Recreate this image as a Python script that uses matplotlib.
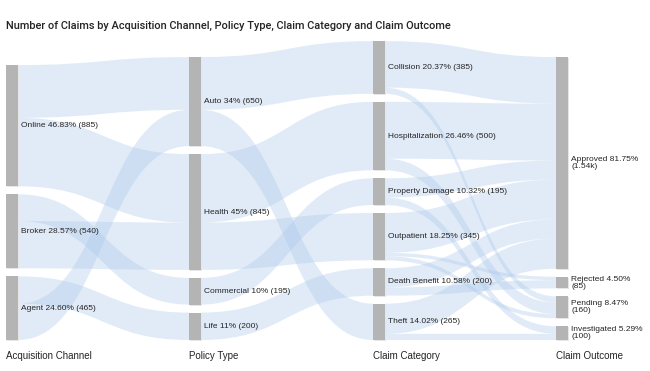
import matplotlib
matplotlib.use("Agg")
import matplotlib.pyplot as plt
from matplotlib.path import Path
from matplotlib.patches import PathPatch, Rectangle

# stages and node values
stage_names = ["Acquisition Channel", "Policy Type", "Claim Category", "Claim Outcome"]
channels = ["Online", "Broker", "Agent"]
policies = ["Auto", "Health", "Commercial", "Life"]
categories = ["Collision", "Hospitalization", "Property Damage", "Outpatient",
              "Death Benefit", "Theft"]
outcomes = ["Approved", "Rejected", "Pending", "Investigated"]

# flows between stages (source, target, claims); list order = stacking order
channel_policy = [("Online", "Auto", 385), ("Online", "Health", 500),
                  ("Broker", "Commercial", 195), ("Broker", "Health", 345),
                  ("Agent", "Life", 200), ("Agent", "Auto", 265)]
policy_category = [("Auto", "Collision", 385), ("Auto", "Theft", 265),
                   ("Health", "Hospitalization", 500), ("Health", "Outpatient", 345),
                   ("Commercial", "Property Damage", 195), ("Life", "Death Benefit", 200)]
category_outcome = [("Collision", "Approved", 340), ("Collision", "Pending", 45),
                    ("Hospitalization", "Approved", 415), ("Hospitalization", "Pending", 85),
                    ("Property Damage", "Approved", 140), ("Property Damage", "Investigated", 55),
                    ("Outpatient", "Approved", 290), ("Outpatient", "Rejected", 25),
                    ("Outpatient", "Pending", 30),
                    ("Death Benefit", "Approved", 140), ("Death Benefit", "Rejected", 60),
                    ("Theft", "Approved", 220), ("Theft", "Investigated", 45)]
pct_decimals = [2, 0, 2, 2]

stages = [channels, policies, categories, outcomes]
link_sets = [channel_policy, policy_category, category_outcome]

# layout (pixels)
W, H = 650, 371
col_x = [6, 189, 373, 556]
node_w = 12
scale = 0.137
gap = 8
base = 340
link_color = "#a9c8ec"
node_color = "#b4b4b4"
text_color = "#252423"

fig = plt.figure(figsize=(6.5, 3.71), dpi=100)
ax = fig.add_axes([0, 0, 1, 1])
ax.set_xlim(0, W)
ax.set_ylim(H, 0)
ax.axis("off")


def node_totals(i):
    tot = {n: 0 for n in stages[i]}
    if i < len(link_sets):
        for s, t, v in link_sets[i]:
            tot[s] += v
    else:
        for s, t, v in link_sets[i - 1]:
            tot[t] += v
    return tot


grand = sum(node_totals(0).values())
nodes = []  # per stage: dict name -> (top, height, value)
for i, names in enumerate(stages):
    tot = node_totals(i)
    span = sum(tot.values()) * scale + (len(names) - 1) * gap
    y = base - span
    pos = {}
    for n in names:
        h = tot[n] * scale
        pos[n] = (y, h, tot[n])
        y += h + gap
    nodes.append(pos)

# links
for i, links in enumerate(link_sets):
    out_off = {n: nodes[i][n][0] for n in stages[i]}
    in_off = {n: nodes[i + 1][n][0] for n in stages[i + 1]}
    x0 = col_x[i] + node_w
    x1 = col_x[i + 1]
    xm = (x0 + x1) / 2
    for s, t, v in links:
        h = v * scale
        a0 = out_off[s]
        a1 = in_off[t]
        out_off[s] += h
        in_off[t] += h
        verts = [(x0, a0), (xm, a0), (xm, a1), (x1, a1),
                 (x1, a1 + h), (xm, a1 + h), (xm, a0 + h), (x0, a0 + h), (x0, a0)]
        codes = [Path.MOVETO, Path.CURVE4, Path.CURVE4, Path.CURVE4,
                 Path.LINETO, Path.CURVE4, Path.CURVE4, Path.CURVE4, Path.CLOSEPOLY]
        ax.add_patch(PathPatch(Path(verts, codes), facecolor=link_color,
                               edgecolor="none", alpha=0.35, zorder=1))


def fmt_val(v):
    if v >= 1000:
        return f"{v / 1000:.2f}k"
    return str(v)


# nodes and labels
for i, names in enumerate(stages):
    for n in names:
        top, h, v = nodes[i][n]
        ax.add_patch(Rectangle((col_x[i] + 1, top + 1), node_w, h,
                               facecolor="#e6e6e6", edgecolor="none", zorder=2))
        ax.add_patch(Rectangle((col_x[i], top), node_w, h,
                               facecolor=node_color, edgecolor="none", zorder=3))
        pct = f"{100 * v / grand:.{pct_decimals[i]}f}%"
        if i == len(stages) - 1:
            label = f"{n} {pct}\n({fmt_val(v)})"
        else:
            label = f"{n} {pct} ({fmt_val(v)})"
        ax.text(col_x[i] + node_w + 3, top + h / 2, label, fontsize=6,
                family="Liberation Sans", color=text_color, va="center",
                ha="left", linespacing=1.0, zorder=4)
    ax.text(col_x[i], 356, stage_names[i], fontsize=7, family="Liberation Sans",
            color=text_color, va="center", ha="left")

ax.text(6, 26, "Number of Claims by Acquisition Channel, Policy Type, Claim Category and Claim Outcome",
        fontsize=7.9, family="Roboto", fontweight="medium", color=text_color,
        va="center", ha="left")

fig.savefig("out.png", dpi=100)
